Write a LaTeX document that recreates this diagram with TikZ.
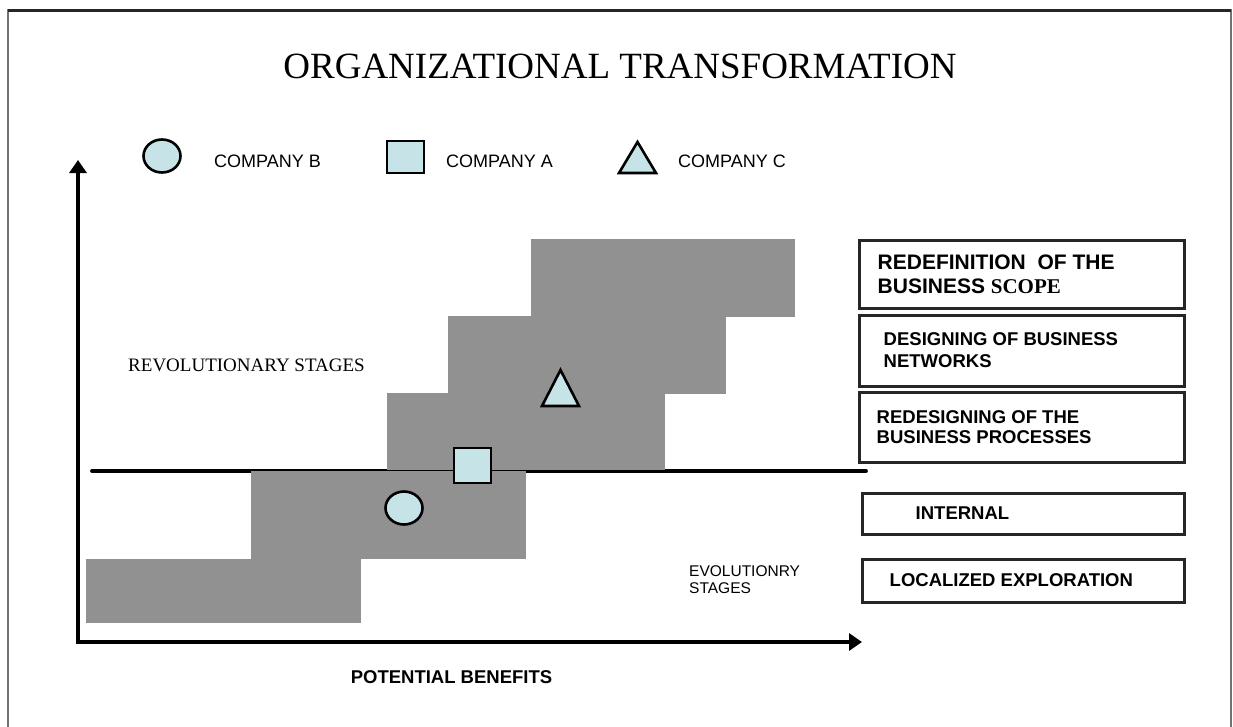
\documentclass[tikz,border=0pt]{standalone}
\usepackage{fontspec}
\setmainfont{Liberation Serif}
\setsansfont{Liberation Sans}
\usetikzlibrary{arrows.meta,positioning,shapes.geometric}
\definecolor{stepgray}{RGB}{145,145,145}
\definecolor{compfill}{RGB}{198,228,232}

\begin{document}
\begin{tikzpicture}[x=1pt,y=-1pt]
  \tikzset{stage box/.style={draw=black!85,line width=3pt,minimum width=#1,inner sep=0pt},
    stage text/.style={anchor=west,align=left,inner sep=0pt,
      font=\sffamily\bfseries\fontsize{18.5}{20}\selectfont},
    company/.style={draw,line width=2.6pt,fill=compfill,inner sep=0pt},
    legend text/.style={anchor=west,inner sep=0pt,font=\sffamily\fontsize{18}{20}\selectfont}}

  \useasboundingbox (0,0) rectangle (1233,726);
  \draw[black!55,line width=1.8pt] (8,740) -- (8,10) -- (1231,10) -- (1231,740);
  \draw[black!85,line width=3pt] (8,10) -- (1231,10);

  \node (title) at (620,66) {\fontsize{37}{40}\selectfont ORGANIZATIONAL TRANSFORMATION};

  % legend
  \node (legB) [company,ellipse,minimum width=37pt,minimum height=33pt] at (162,156) {};
  \node (legBtext) [legend text] at (214,161) {COMPANY B};
  \node (legA) [company,rectangle,minimum width=37pt,minimum height=32pt] at (405.5,157) {};
  \node (legAtext) [legend text] at (446,161) {COMPANY A};
  \coordinate (legC) at (637.5,157.5);
  \draw[company,line join=miter] ([shift={(-18.5,15.5)}]legC) -- ([shift={(0,-15.5)}]legC)
    -- ([shift={(18.5,15.5)}]legC) -- cycle;
  \node (legCtext) [legend text] at (678,161) {COMPANY C};

  % stages
  \coordinate (divL) at (92,471);
  \coordinate (divR) at (866,471);
  \draw[line width=3.8pt,line cap=round] (divL) -- (divR);
  \fill[stepgray] (86,559) rectangle (361,623);
  \fill[stepgray] (251,470.5) rectangle (526,559);
  \fill[stepgray] (387,393) rectangle (665,469.5);
  \fill[stepgray] (448,316) rectangle (726,393.5);
  \fill[stepgray] (531,239) rectangle (795,316.5);

  % axes
  \coordinate (origin) at (78,642);
  \coordinate (ytip) at (78,160);
  \coordinate (xtip) at (862,642);
  \draw[line width=4.5pt,{Triangle[width=17pt,length=13pt]}-{Triangle[width=17pt,length=13pt]}]
    (ytip) -- (origin) -- (xtip);

  % companies
  \node (compB) [company,ellipse,minimum width=37pt,minimum height=33pt] at (404,508) {};
  \node (compA) [company,rectangle,minimum width=37pt,minimum height=35pt] at (472.5,465.5) {};
  \coordinate (compC) at (560.5,388);
  \draw[company,line join=miter] ([shift={(-18.5,18)}]compC) -- ([shift={(0,-18)}]compC)
    -- ([shift={(18.5,18)}]compC) -- cycle;

  \node (rev) at (246.5,365) {\fontsize{19}{20}\selectfont REVOLUTIONARY STAGES};
  \node (evo) [anchor=west,align=left,inner sep=0pt,font=\sffamily\fontsize{15.5}{17}\selectfont]
    at (689,579.5) {EVOLUTIONRY\\STAGES};
  \node (benefits) [font=\sffamily\bfseries\fontsize{18.5}{20}\selectfont] at (451.5,677) {POTENTIAL BENEFITS};

  % stage boxes
  \node (scope) [stage box=325pt,minimum height=68pt] at (1021.5,274) {};
  \node [stage text,font=\sffamily\bfseries\fontsize{21}{24}\selectfont] at ([xshift=20pt]scope.west)
    {REDEFINITION\ \ OF THE\\BUSINESS {\rmfamily\fontsize{21}{24}\selectfont SCOPE}};
  \node (networks) [stage box=325pt,minimum height=71pt] at (1021.5,350.5) {};
  \node [stage text,font=\sffamily\bfseries\fontsize{18.5}{22}\selectfont] at ([xshift=26pt]networks.west)
    {DESIGNING OF BUSINESS\\NETWORKS};
  \node (processes) [stage box=325pt,minimum height=70pt] at (1021.5,427) {};
  \node [stage text] at ([xshift=19pt]processes.west) {REDESIGNING OF THE\\BUSINESS PROCESSES};
  \node (internal) [stage box=322pt,minimum height=41pt] at (1023,513.5) {};
  \node [stage text] at ([xshift=55pt]internal.west) {INTERNAL};
  \node (localized) [stage box=322pt,minimum height=43pt] at (1023,580.5) {};
  \node [stage text] at ([xshift=29pt]localized.west) {LOCALIZED EXPLORATION};
\end{tikzpicture}
\end{document}
